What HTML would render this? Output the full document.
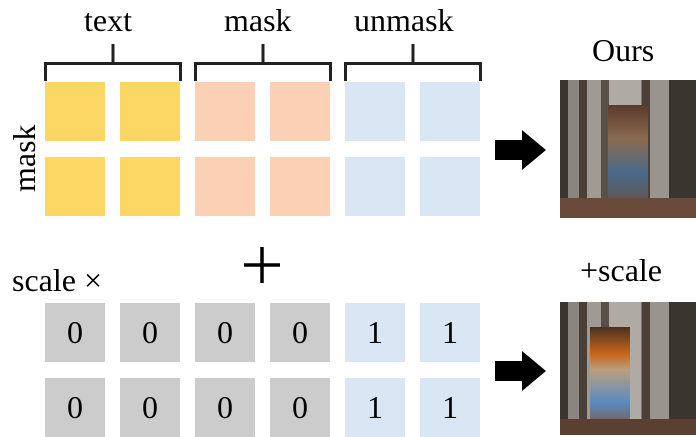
<!DOCTYPE html>
<html><head><style>
body{margin:0;width:696px;height:435px;background:#fff;position:relative;overflow:hidden;font-family:"Liberation Serif","DejaVu Serif","Times New Roman",serif;color:#000}
div{font-family:"Liberation Serif","DejaVu Serif","Times New Roman",serif}
.s{position:absolute;width:60px;height:59px}
.y{background:#fdd764}.p{background:#fcd0b4}.b{background:#d9e7f5}.g{background:#cccccc}
.n{font-size:32px;text-align:center;line-height:59px}
.t{position:absolute;font-size:32px;white-space:nowrap}
.img{position:absolute;width:136px;background:linear-gradient(90deg,#3b3530 0 6%,#8a8580 6% 14%,#4a4038 14% 20%,#a09a95 20% 30%,#5a5048 30% 36%,#b0aaa5 36% 60%,#4a4038 60% 66%,#9a948f 66% 80%,#3b3530 80% 100%)}
</style></head><body>
<svg style="position:absolute;left:0;top:0" width="696" height="435">
<g fill="none" stroke="#222" stroke-width="3">
<path d="M45.5 81V63.5H180.5V81M113 63.5V44"/>
<path d="M195.5 81V63.5H330.5V81M263 63.5V44"/>
<path d="M345.5 81V63.5H480.5V81M413 63.5V44"/>
</g>
<path d="M495 140H522V130L546 150L522 170V160H495Z" fill="#000"/>
<path d="M495 361H522V351L546 371L522 391V381H495Z" fill="#000"/>
<path d="M262 247V283M244 265H280" stroke="#000" stroke-width="3.5"/>
</svg>
<div class="t" style="left:84px;top:2px">text</div>
<div class="t" style="left:224px;top:2px">mask</div>
<div class="t" style="left:354px;top:2px">unmask</div>
<div class="t" style="left:6px;top:192px;transform:rotate(-90deg);transform-origin:left top">mask</div>
<div class="t" style="left:592px;top:32px">Ours</div>
<div class="t" style="left:580px;top:252px">+scale</div>
<div class="t" style="left:12px;top:262px">scale ×</div>
<div class="s y" style="left:45px;top:82px"></div><div class="s y" style="left:120px;top:82px"></div>
<div class="s p" style="left:195px;top:82px"></div><div class="s p" style="left:270px;top:82px"></div>
<div class="s b" style="left:345px;top:82px"></div><div class="s b" style="left:420px;top:82px"></div>
<div class="s y" style="left:45px;top:157px"></div><div class="s y" style="left:120px;top:157px"></div>
<div class="s p" style="left:195px;top:157px"></div><div class="s p" style="left:270px;top:157px"></div>
<div class="s b" style="left:345px;top:157px"></div><div class="s b" style="left:420px;top:157px"></div>
<div class="s g n" style="left:45px;top:303px">0</div><div class="s g n" style="left:120px;top:303px">0</div>
<div class="s g n" style="left:195px;top:303px">0</div><div class="s g n" style="left:270px;top:303px">0</div>
<div class="s b n" style="left:345px;top:303px">1</div><div class="s b n" style="left:420px;top:303px">1</div>
<div class="s g n" style="left:45px;top:378px">0</div><div class="s g n" style="left:120px;top:378px">0</div>
<div class="s g n" style="left:195px;top:378px">0</div><div class="s g n" style="left:270px;top:378px">0</div>
<div class="s b n" style="left:345px;top:378px">1</div><div class="s b n" style="left:420px;top:378px">1</div>
<div class="img" style="left:560px;top:80px;height:138px"><div style="position:absolute;left:48px;top:25px;width:40px;height:113px;background:linear-gradient(#5a3a2a,#8a6a50 30%,#4a6a8a 60%,#6a4a30)"></div><div style="position:absolute;left:0;bottom:0;width:136px;height:20px;background:#6a4a3a"></div></div>
<div class="img" style="left:560px;top:302px;height:133px"><div style="position:absolute;left:30px;top:25px;width:40px;height:108px;background:linear-gradient(#4a3020,#c8661a 25%,#b8a080 40%,#5a8ac0 70%,#8a4a20)"></div><div style="position:absolute;left:0;bottom:0;width:136px;height:16px;background:#5a4030"></div></div>
</body></html>
